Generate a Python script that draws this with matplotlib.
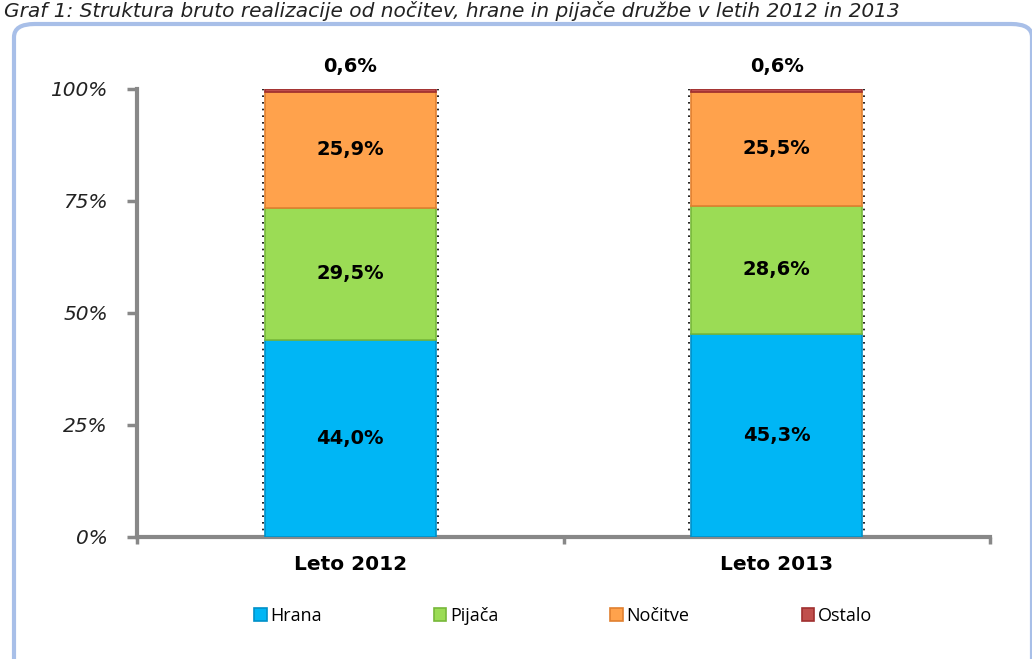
import matplotlib
matplotlib.use("Agg")
import matplotlib.pyplot as plt
from matplotlib.patches import FancyBboxPatch
import numpy as np

categories = ["Leto 2012", "Leto 2013"]
series_names = ["Hrana", "Pijača", "Nočitve", "Ostalo"]
hrana = [44.0, 45.3]
pijaca = [29.5, 28.6]
nocitve = [25.9, 25.5]
ostalo = [0.6, 0.6]
labels_hrana = ["44,0%", "45,3%"]
labels_pijaca = ["29,5%", "28,6%"]
labels_nocitve = ["25,9%", "25,5%"]
labels_ostalo = ["0,6%", "0,6%"]
yticks = [0, 25, 50, 75, 100]
ytick_labels = ["0%", "25%", "50%", "75%", "100%"]
title = "Graf 1: Struktura bruto realizacije od nočitev, hrane in pijače družbe v letih 2012 in 2013"

colors = ["#00B6F5", "#9BDC55", "#FFA24C", "#C0504D"]
edge_colors = ["#0090C8", "#77B83A", "#E08030", "#A03030"]

W, H = 1032, 659
fig = plt.figure(figsize=(W / 100, H / 100), dpi=100)

# rounded border
border = FancyBboxPatch((14 / W, -30 / H), (W - 14) / W, (H - 24 + 30) / H,
                        boxstyle="round,pad=0,rounding_size=0.02",
                        transform=fig.transFigure, fill=False,
                        edgecolor="#A8BFE8", linewidth=3, clip_on=False)
fig.patches.append(border)

fig.text(4 / W, 1 - 1 / H, title, ha="left", va="top", style="italic",
         fontsize=14.5, family="DejaVu Sans", color="#222222")

ax = fig.add_axes([137 / W, 1 - 537 / H, (990 - 137) / W, (537 - 89) / H])
x = np.arange(len(categories))
width = 0.4
series = [hrana, pijaca, nocitve, ostalo]
bottom = np.zeros(len(categories))
bars = []
for vals, name, c, ec in zip(series, series_names, colors, edge_colors):
    b = ax.bar(x, vals, width, bottom=bottom, color=c, edgecolor=ec,
               linewidth=1.2, label=name, zorder=3)
    bars.append(b)
    bottom = bottom + np.array(vals)

# dotted edge lines
for xi in x:
    ax.vlines([xi - width / 2 - 0.005, xi + width / 2 + 0.005], 0, 100,
              colors="black", linestyles=(0, (1, 3)), linewidth=1.2, zorder=2)

for b, labs in zip(bars[:3], [labels_hrana, labels_pijaca, labels_nocitve]):
    for rect, lab in zip(b, labs):
        ax.text(rect.get_x() + rect.get_width() / 2,
                rect.get_y() + rect.get_height() / 2, lab,
                ha="center", va="center", fontsize=14, fontweight="bold",
                family="DejaVu Sans", color="black", zorder=5)
for rect, lab in zip(bars[3], labels_ostalo):
    ax.text(rect.get_x() + rect.get_width() / 2, 103, lab,
            ha="center", va="bottom", fontsize=14, fontweight="bold",
            family="DejaVu Sans", color="black", clip_on=False)

ax.set_xlim(-0.5, 1.5)
ax.set_ylim(0, 100)
ax.set_yticks(yticks)
ax.set_yticklabels(ytick_labels, style="italic", fontsize=14.5,
                   family="DejaVu Sans", color="#222222")
ax.set_xticks(x)
ax.set_xticklabels(categories, fontsize=14.5, fontweight="bold",
                   family="DejaVu Sans", color="black")
ax.tick_params(axis="x", length=0, pad=13)
ax.tick_params(axis="y", length=7, width=2.5, color="#888888", pad=14, direction="out")
ax.set_xticks([-0.5, 0.5, 1.5], minor=True)
ax.tick_params(axis="x", which="minor", length=5, width=2.5, color="#888888")
for s in ["top", "right"]:
    ax.spines[s].set_visible(False)
for s in ["left", "bottom"]:
    ax.spines[s].set_color("#888888")
    ax.spines[s].set_linewidth(3)
ax.set_facecolor("none")

fig.legend(handles=bars, labels=series_names, loc="center",
           bbox_to_anchor=(563 / W, 1 - 616 / H), ncol=4, frameon=False,
           handlelength=0.7, handleheight=0.7, handletextpad=0.2,
           columnspacing=6.2, prop={"family": "Open Sans", "size": 13})

fig.savefig("out.png", dpi=100)
